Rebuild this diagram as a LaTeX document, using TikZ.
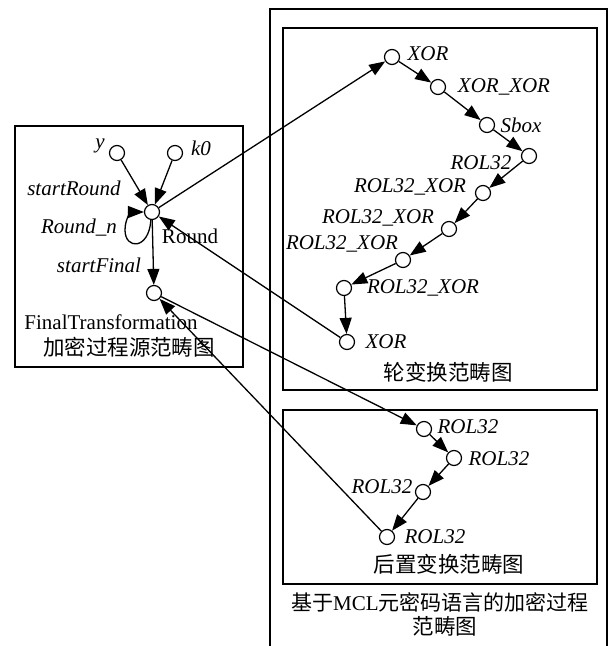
\documentclass[tikz,border=0pt]{standalone}
\usepackage{fontspec}
\setmainfont{Liberation Serif}
\newfontfamily\cjk{Noto Sans CJK SC}
\usetikzlibrary{arrows.meta}
\begin{document}
\begin{tikzpicture}[x=1pt,y=-1pt,
  v/.style={circle,draw,fill=white,minimum size=15pt,inner sep=0pt,line width=1.2pt},
  lab/.style={font=\fontsize{21}{24}\selectfont\itshape,inner sep=0pt},
  txt/.style={font=\fontsize{21}{24}\selectfont,inner sep=0pt},
  ctxt/.style={font=\fontsize{21.5}{24}\selectfont\cjk,inner sep=0pt},
  arr/.style={-{Triangle[length=16pt,width=12pt]},line width=1.3pt},
  frame/.style={draw,line width=1.3pt}]
\useasboundingbox (0,0) rectangle (613,646);
\fill[white] (0,0) rectangle (613,646);
% frames
\draw[frame] (15,126) rectangle (243,367);
\draw[frame] (270,660) -- (270,9) -- (607,9) -- (607,660);
\draw[frame] (283,28) rectangle (597,390);
\draw[frame] (283,410) rectangle (597,584);
% left nodes
\node[v] (y) at (117,153) {};
\node[v] (k0) at (175,153) {};
\node[v] (r) at (152,212) {};
\node[v] (f) at (154,293) {};
\node[lab] (ly) at (100,146) {y};
\node[lab] (lk0) at (201,148) {k0};
\node[lab] (lsr) at (74,188) {startRound};
\node[lab] (lrn) at (79,228) {Round\_n};
\node[txt] (lr) at (190,236) {Round};
\node[lab] (lsf) at (99,265) {startFinal};
\node[txt] (lf) at (111,322) {FinalTransformation};
\node[ctxt] (t1) at (129,347) {加密过程源范畴图};
% upper right nodes
\node[v] (x1) at (392,57) {};
\node[v] (xx) at (438,87) {};
\node[v] (sb) at (487,125) {};
\node[v] (ro) at (529,156) {};
\node[v] (rx1) at (483,193) {};
\node[v] (rx2) at (449,229) {};
\node[v] (rx3) at (403,260) {};
\node[v] (rx4) at (344,288) {};
\node[v] (x2) at (347,342) {};
\node[lab] (lx1) at (428,54) {XOR};
\node[lab] (lxx) at (504,87) {XOR\_XOR};
\node[lab] (lsb) at (521,125) {Sbox};
\node[lab] (lro) at (481,163) {ROL32};
\node[lab] (lrx1) at (410,187) {ROL32\_XOR};
\node[lab] (lrx2) at (378,218) {ROL32\_XOR};
\node[lab] (lrx3) at (342,244) {ROL32\_XOR};
\node[lab] (lrx4) at (423,288) {ROL32\_XOR};
\node[lab] (lx2) at (386,342) {XOR};
\node[ctxt] (t2) at (448,372) {轮变换范畴图};
% lower right nodes
\node[v] (ra) at (424,429) {};
\node[v] (rb) at (454,458) {};
\node[v] (rc) at (423,492) {};
\node[v] (rd) at (387,537) {};
\node[lab] (lra) at (468,427) {ROL32};
\node[lab] (lrb) at (499,459) {ROL32};
\node[lab] (lrc) at (382,487) {ROL32};
\node[lab] (lrd) at (435,537) {ROL32};
\node[ctxt] (t3) at (449,564) {后置变换范畴图};
\node[txt] (t4) at (440,602) {{\cjk 基于}MCL{\cjk 元密码语言的加密过程}};
\node[ctxt] (t5) at (445,626) {范畴图};
% connectors
\draw[arr] (y) -- (r);
\draw[arr] (k0) -- (r);
\draw[arr] (r.262) .. controls (149,250) and (125,250) .. (125,230)
  .. controls (125,218) and (132,212) .. (r.180);
\draw[arr] (r) -- (f);
\draw[arr] (r) -- (x1);
\draw[arr] (x1) -- (xx);
\draw[arr] (xx) -- (sb);
\draw[arr] (sb) -- (ro);
\draw[arr] (ro) -- (rx1);
\draw[arr] (rx1) -- (rx2);
\draw[arr] (rx2) -- (rx3);
\draw[arr] (rx3) -- (rx4);
\draw[arr] (rx4) -- (x2);
\draw[arr] (x2) -- (r);
\draw[arr] (f) -- (ra);
\draw[arr] (ra) -- (rb);
\draw[arr] (rb) -- (rc);
\draw[arr] (rc) -- (rd);
\draw[arr] (rd) -- (f);
\end{tikzpicture}
\end{document}
